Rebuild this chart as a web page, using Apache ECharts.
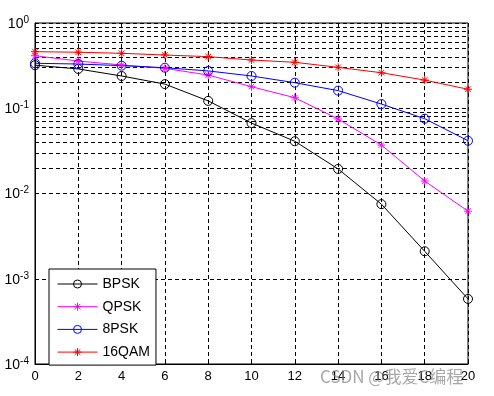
<!DOCTYPE html>
<html>
<head>
<meta charset="utf-8">
<script src="https://cdn.jsdelivr.net/npm/echarts@6/dist/echarts.min.js"></script>
<style>html,body{margin:0;padding:0;background:#fff}#c{width:494px;height:396px}</style>
</head>
<body>
<div id="c"></div>
<script>
var snr = [0, 2, 4, 6, 8, 10, 12, 14, 16, 18, 20];
var bpsk = [0.32, 0.289, 0.239, 0.192, 0.122, 0.067, 0.041, 0.0194, 0.0075, 0.0021, 0.00058];
var qpsk = [0.413, 0.358, 0.322, 0.294, 0.245, 0.179, 0.133, 0.0748, 0.037, 0.014, 0.0062];
var psk8 = [0.337, 0.33, 0.316, 0.299, 0.274, 0.239, 0.1995, 0.161, 0.112, 0.0754, 0.0416];
var qam16 = [0.461, 0.454, 0.441, 0.421, 0.403, 0.368, 0.346, 0.302, 0.261, 0.214, 0.167];
var seriesNames = ['BPSK', 'QPSK', '8PSK', '16QAM'];
var minorGrid = [];
[1e-4, 1e-3, 1e-2, 1e-1].forEach(function (d) {
  for (var k = 2; k <= 9; k++) minorGrid.push(d * k);
});
var watermark = 'CSDN @我爱C编程';

var FONT = 'Liberation Sans, Arial, sans-serif';
var STAR = 'path://M5,0L5,10M0,5L10,5M1.5,1.5L8.5,8.5M1.5,8.5L8.5,1.5';
function pairs(ys) { return snr.map(function (x, i) { return [x, ys[i]]; }); }
function mk(name, ys, color, sym) {
  var isStar = sym === 'star';
  return {
    name: name, type: 'line', data: pairs(ys),
    symbol: isStar ? STAR : 'circle',
    symbolSize: isStar ? 8 : 9,
    showAllSymbol: true,
    lineStyle: { color: color, width: 1 },
    itemStyle: { color: isStar ? color : 'rgba(0,0,0,0)', borderColor: color, borderWidth: 1 },
    emphasis: { disabled: true },
    animation: false, z: 5
  };
}
var dash = [4, 3];
var chart = echarts.init(document.getElementById('c'), null, { renderer: 'canvas' });
chart.setOption({
  backgroundColor: '#fff',
  animation: false,
  grid: { left: 35, top: 23, width: 433, height: 341, show: true, borderColor: '#000', borderWidth: 1, backgroundColor: 'transparent' },
  xAxis: {
    type: 'value', min: 0, max: 20, interval: 2,
    axisLine: { show: true, onZero: false, lineStyle: { color: '#000', width: 1 } },
    axisTick: { show: true, inside: true, length: 4, lineStyle: { color: '#000' } },
    axisLabel: { color: '#000', fontSize: 13, fontFamily: FONT, margin: 6 },
    splitLine: { show: true, lineStyle: { color: '#000', type: dash, width: 1 } }
  },
  yAxis: {
    type: 'log', logBase: 10, min: 1e-4, max: 1,
    axisLine: { show: true, lineStyle: { color: '#000', width: 1 } },
    axisTick: { show: true, inside: true, length: 4, lineStyle: { color: '#000' } },
    axisLabel: {
      margin: 6,
      formatter: function (v) { var e = Math.round(Math.log10(v)); return '{b|10}{s|' + e + '}'; },
      rich: {
        b: { fontSize: 14, fontFamily: FONT, color: '#000', verticalAlign: 'bottom', lineHeight: 16 },
        s: { fontSize: 10, fontFamily: FONT, color: '#000', verticalAlign: 'top', lineHeight: 16, padding: [0, 0, 10, 0] }
      }
    },
    splitLine: { show: true, lineStyle: { color: '#000', type: dash, width: 1 } }
  },
  legend: {
    data: seriesNames,
    orient: 'vertical', left: 49, top: 269,
    backgroundColor: '#fff', borderColor: '#000', borderWidth: 1, borderRadius: 0,
    padding: [8, 6, 6, 8], itemGap: 8.7, itemWidth: 40, itemHeight: 10,
    lineStyle: { width: 1 },
    itemStyle: { borderWidth: 1 },
    textStyle: { fontSize: 14, fontFamily: FONT, color: '#000', padding: [0, 0, 0, 0] },
    selectedMode: false
  },
  graphic: [{
    type: 'text', left: 320, top: 368, z: 100,
    style: { text: watermark, fontSize: 17, fontFamily: 'Noto Sans CJK SC, sans-serif', fill: 'rgba(130,130,130,0.7)' }
  }],
  series: [
    mk('BPSK', bpsk, '#000000', 'circle'),
    mk('QPSK', qpsk, '#ff00ff', 'star'),
    mk('8PSK', psk8, '#0000ff', 'circle'),
    mk('16QAM', qam16, '#ff0000', 'star'),
    {
      name: 'minor', type: 'line', data: [], silent: true, animation: false, z: 1,
      markLine: {
        silent: true, symbol: ['none', 'none'], animation: false,
        label: { show: false },
        lineStyle: { color: '#000', type: dash, width: 1 },
        emphasis: { disabled: true },
        data: minorGrid.map(function (v) { return { yAxis: v }; })
      }
    }
  ]
});
</script>
</body>
</html>
